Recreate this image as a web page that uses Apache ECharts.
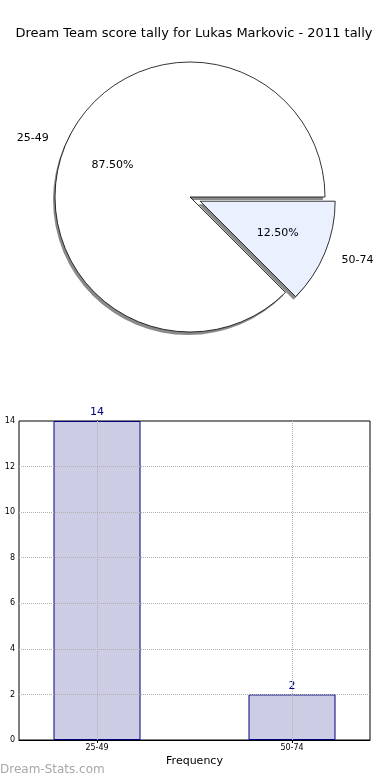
<!DOCTYPE html>
<html><head><meta charset="utf-8">
<script src="https://cdn.jsdelivr.net/npm/echarts@6/dist/echarts.min.js"></script>
<style>html,body{margin:0;padding:0;background:#fff}#c{width:390px;height:780px}</style>
</head><body><div id="c"></div>
<script>
const categories = ['25-49', '50-74'];
const counts = [14, 2];
const percentLabels = ['87.50%', '12.50%'];
const yTicks = [0, 2, 4, 6, 8, 10, 12, 14];
const catPositions = [0, 1];

const font = 'DejaVu Sans';
const chart = echarts.init(document.getElementById('c'), null, {renderer: 'canvas'});
const R = 135;
const C = [190, 197];
const sliceColors = ['#ffffff', '#ebf0fe'];

const pieData = categories.map((c, i) => ({
  name: c, value: counts[i], selected: i === 1,
  itemStyle: {color: sliceColors[i]}
}));
const shadowData = categories.map((c, i) => ({name: c, value: counts[i], selected: i === 1}));
const pieLabelData = categories.map((c, i) => ({
  name: percentLabels[i], value: counts[i], selected: i === 1
}));

const gridLines = yTicks.filter(v => v > 0 && v < 14).map(v => ({yAxis: v}))
  .concat(catPositions.map(x => ({xAxis: x})));

const pieCommon = {
  type: 'pie', startAngle: 0, clockwise: false, selectedMode: 'single', selectedOffset: 11,
  emphasis: {disabled: true}, silent: true
};

chart.setOption({
  animation: false,
  title: {
    text: 'Dream Team score tally for Lukas Markovic - 2011 tally',
    left: 189, top: 22, textAlign: 'center',
    textStyle: {fontFamily: font, fontSize: 13, fontWeight: 'normal', color: '#000'}
  },
  graphic: [{
    type: 'text', left: 0, top: 764,
    style: {text: 'Dream-Stats.com', fontFamily: font, fontSize: 12, fontWeight: 'normal', fill: '#a8a8a8'}
  }, {
    type: 'text', x: 3, y: 580, rotation: Math.PI / 2,
    style: {text: 'Distribution', fontFamily: font, fontSize: 11, fill: '#000',
      align: 'center', verticalAlign: 'bottom'}
  }],
  grid: {left: 19, right: 20, top: 421, bottom: 40, containLabel: false, outerBoundsMode: 'none',
    show: true, borderColor: '#000', borderWidth: 1},
  xAxis: {
    type: 'value', min: -0.4, max: 1.4,
    name: 'Frequency', nameLocation: 'middle', nameGap: 16,
    nameTextStyle: {fontFamily: font, fontSize: 11, color: '#000'},
    axisLine: {show: true, lineStyle: {color: '#000'}},
    splitLine: {show: false},
    axisTick: {show: true, customValues: catPositions, length: 3, lineStyle: {color: '#000'}},
    axisLabel: {customValues: catPositions, formatter: v => categories[Math.round(v)],
      fontFamily: font, fontSize: 8, color: '#000', margin: 4}
  },
  yAxis: {
    type: 'value', min: 0, max: 14, interval: 2,
    axisLine: {show: true, lineStyle: {color: '#000'}},
    splitLine: {show: false},
    axisTick: {show: true, length: 3, lineStyle: {color: '#000'}},
    axisLabel: {fontFamily: font, fontSize: 8, color: '#000', margin: 4}
  },
  series: [
    Object.assign({}, pieCommon, {
      center: [C[0] - 2, C[1] + 3], radius: R, z: 1,
      data: shadowData,
      itemStyle: {color: '#8a8a8a', borderWidth: 0},
      label: {show: false}, labelLine: {show: false}
    }),
    Object.assign({}, pieCommon, {
      center: C, radius: R, z: 2,
      data: pieData,
      itemStyle: {borderColor: '#000', borderWidth: 0.8},
      label: {show: true, position: 'outside', fontFamily: font, fontSize: 11, color: '#000', distanceToLabelLine: 0},
      labelLine: {show: false, length: 18, length2: 0}
    }),
    Object.assign({}, pieCommon, {
      center: C, radius: [0, R * 1.2], z: 3,
      data: pieLabelData,
      itemStyle: {color: 'rgba(0,0,0,0)'},
      label: {show: true, position: 'inside', fontFamily: font, fontSize: 11, color: '#000'}
    }),
    {
      type: 'bar', barWidth: 87,
      data: catPositions.map((x, i) => [x, counts[i]]),
      itemStyle: {color: '#ccccE5', borderColor: '#000080', borderWidth: 1},
      label: {show: true, position: 'top', distance: 3, fontFamily: font, fontSize: 11, color: '#000080'},
      markLine: {
        silent: true, symbol: 'none', z: 10,
        label: {show: false},
        lineStyle: {type: 'dotted', color: '#b0b0b0', width: 1},
        data: gridLines
      }
    }
  ]
});
</script></body></html>
